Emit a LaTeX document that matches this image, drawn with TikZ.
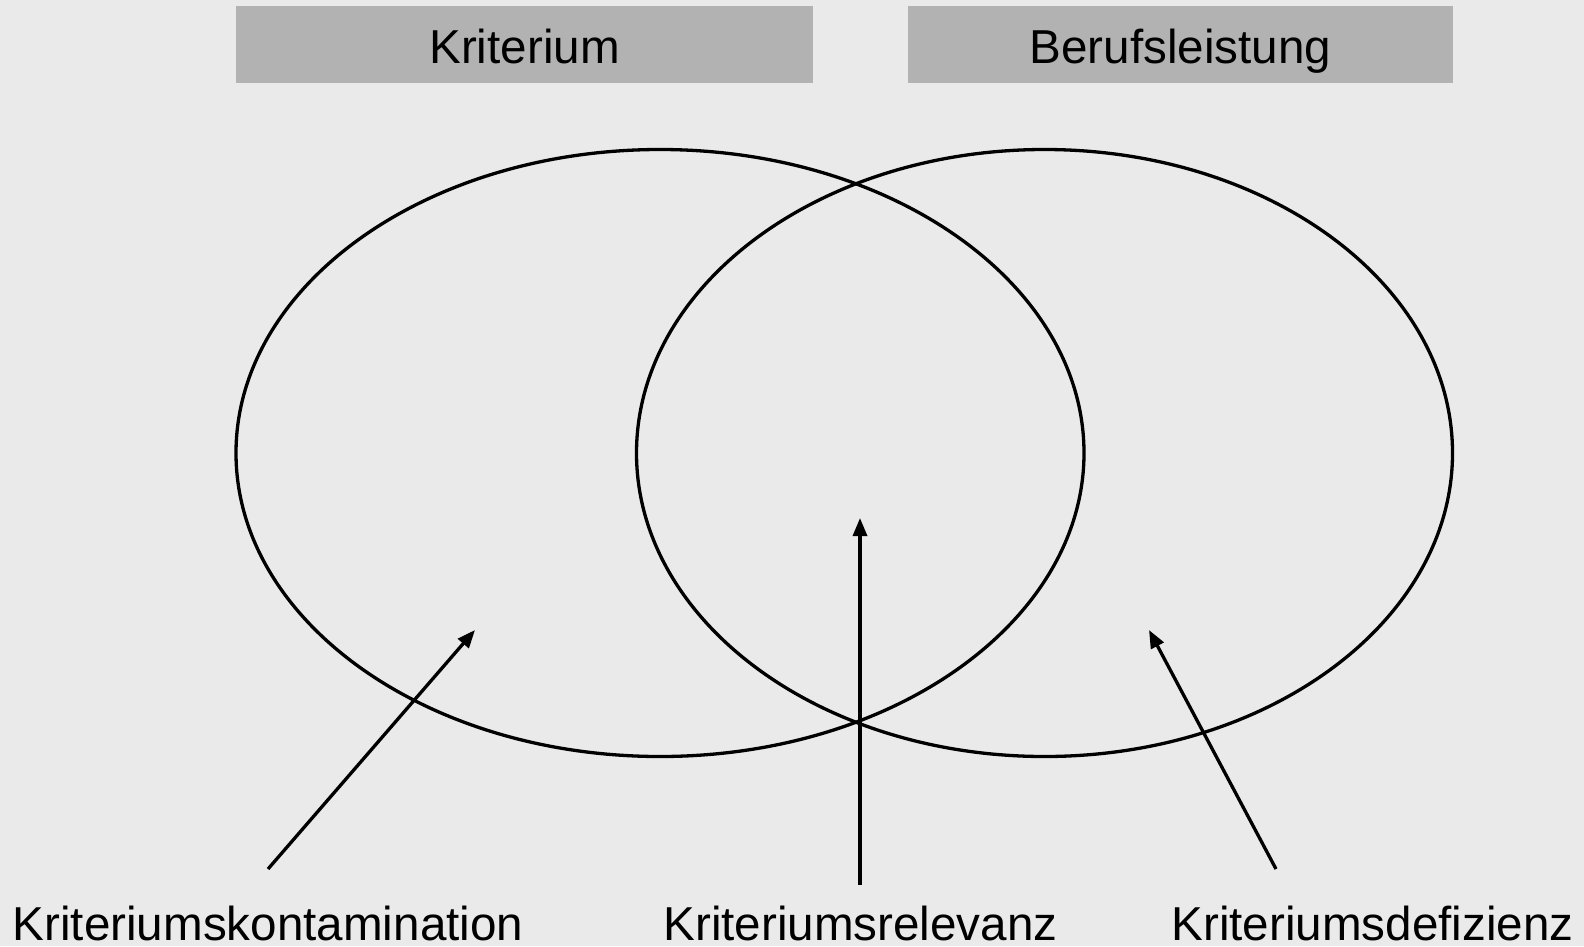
\documentclass[tikz,border=0pt]{standalone}
\usepackage{fontspec}
\setmainfont{Liberation Sans}
\usepackage{tikz}
\usetikzlibrary{arrows.meta}
\definecolor{bggray}{HTML}{EAEAEA}
\definecolor{boxgray}{HTML}{B2B2B2}
\tikzset{
  bigtext/.style={font=\fontsize{47.6}{56}\selectfont, inner sep=0pt, anchor=base},
  pointer/.style={line width=3.3pt, -{Triangle[length=18pt,width=14pt]}},
  headbox/.style={fill=boxgray, draw=none}
}

\begin{document}
\begin{tikzpicture}[x=1pt,y=-1pt]
  \useasboundingbox[fill=bggray] (0,0) rectangle (1584,946);
  % header boxes
  \fill[headbox] (236,6) rectangle (813,83);
  \fill[headbox] (908,6) rectangle (1453,83);
  \node[bigtext] (kriterium) at (524.5,63) {Kriterium};
  \node[bigtext] (beruf) at (1180.5,63) {Berufsleistung};
  % the two sets
  \draw[line width=3.3pt] (660,453) ellipse [x radius=424, y radius=303.5];
  \draw[line width=3.3pt] (1044.5,453) ellipse [x radius=408, y radius=303.5];
  % labels
  \node[bigtext] (kontam) at (268,940) {Kriteriumskontamination};
  \node[bigtext] (relevanz) at (860.5,940) {Kriteriumsrelevanz};
  \node[bigtext] (defizienz) at (1372.5,940) {Kriteriumsdefizienz};
  \coordinate (kontamFrom) at (268,869);
  \coordinate (kontamTo) at (475,630);
  \coordinate (relevanzFrom) at (860,885);
  \coordinate (relevanzTo) at (860,518);
  \coordinate (defizienzFrom) at (1276,869);
  \coordinate (defizienzTo) at (1149,630);
  \draw[pointer] (kontamFrom) -- (kontamTo);
  \draw[pointer] (relevanzFrom) -- (relevanzTo);
  \draw[pointer] (defizienzFrom) -- (defizienzTo);
\end{tikzpicture}
\end{document}
